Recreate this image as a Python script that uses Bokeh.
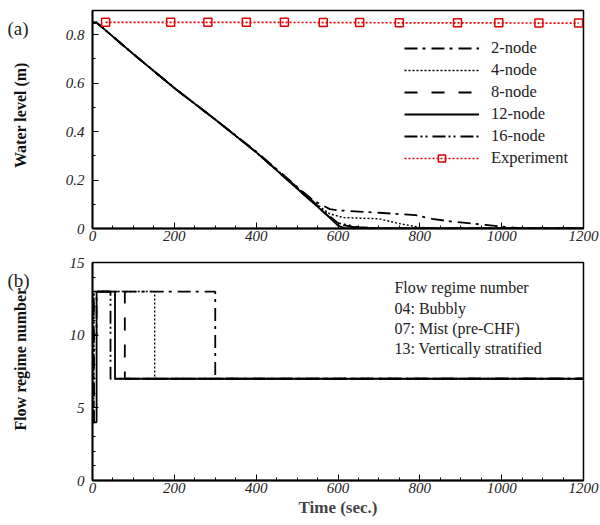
import math
from bokeh.plotting import figure
from bokeh.models import FixedTicker, Legend, LegendItem, Label
from bokeh.layouts import column, row
from bokeh.embed import file_html
from bokeh.resources import INLINE

# ---------------- data: panel (a) water level ----------------
t_12 = [0, 10, 100, 200, 300, 400, 500, 540, 570, 600, 620, 1200]
y_12 = [0.85, 0.85, 0.72, 0.58, 0.45, 0.315, 0.165, 0.105, 0.06, 0.012, 0.0, 0.0]

t_8 = [0, 10, 100, 200, 300, 400, 500, 540, 570, 600, 640, 700, 1200]
y_8 = [0.85, 0.85, 0.72, 0.58, 0.45, 0.315, 0.165, 0.105, 0.06, 0.018, 0.006, 0.0, 0.0]

t_16 = [0, 10, 100, 200, 300, 400, 500, 540, 570, 600, 650, 700, 1200]
y_16 = [0.85, 0.85, 0.72, 0.58, 0.45, 0.315, 0.17, 0.11, 0.065, 0.022, 0.006, 0.0, 0.0]

t_4 = [0, 10, 100, 200, 300, 400, 500, 540, 580, 615, 700, 750, 800, 830, 1200]
y_4 = [0.85, 0.85, 0.72, 0.58, 0.45, 0.315, 0.168, 0.11, 0.06, 0.045, 0.04, 0.02, 0.005, 0.0, 0.0]

t_2 = [0, 10, 100, 200, 300, 400, 500, 540, 580, 600, 700, 790, 830, 880, 960, 1000, 1050, 1200]
y_2 = [0.85, 0.85, 0.72, 0.58, 0.45, 0.318, 0.172, 0.115, 0.08, 0.075, 0.065, 0.055, 0.04, 0.028, 0.015, 0.008, 0.0, 0.0]

t_exp = [32, 191, 282, 376, 469, 564, 653, 750, 892, 993, 1091, 1188]
y_exp = [0.851, 0.851, 0.851, 0.851, 0.851, 0.85, 0.85, 0.849, 0.849, 0.849, 0.848, 0.848]

# ---------------- data: panel (b) flow regime ----------------
tb_12 = [0, 10, 10, 55, 55, 1200]
vb_12 = [4, 4, 13, 13, 7, 7]
tb_16 = [0, 3, 3, 44, 44, 1200]
vb_16 = [4, 4, 13, 13, 7, 7]
tb_8 = [0, 3, 3, 79, 79, 1200]
vb_8 = [4, 4, 13, 13, 7, 7]
tb_4 = [0, 3, 3, 152, 152, 1200]
vb_4 = [4, 4, 13, 13, 7, 7]
tb_2 = [0, 3, 3, 10, 10, 300, 300, 1200]
vb_2 = [4, 4, 10, 10, 13, 13, 7, 7]

x_ticks = [0, 200, 400, 600, 800, 1000, 1200]
ya_ticks = [0, 0.2, 0.4, 0.6, 0.8]
yb_ticks = [0, 5, 10, 15]
regime_text = ["Flow regime number", "04: Bubbly", "07: Mist (pre-CHF)", "13: Vertically stratified"]
panel_tags = ["(a)", "(b)"]
y_titles = ["Water level (m)", "Flow regime number"]

SERIF = "Liberation Serif"
STY = {
    "2": dict(line_dash="13 5 3 6"),
    "4": dict(line_dash="2 2"),
    "8": dict(line_dash="13 14"),
    "12": dict(line_dash="solid"),
    "16": dict(line_dash="13 3 2 3 2 5"),
}


def style(p, yticks, yminor):
    p.x_range.start, p.x_range.end = 0, 1200
    p.grid.visible = False
    p.outline_line_color = "black"
    p.outline_line_width = 1.5
    p.background_fill_color = "white"
    p.xaxis.ticker = FixedTicker(ticks=x_ticks, minor_ticks=list(range(0, 1201, 50)))
    p.yaxis.ticker = FixedTicker(ticks=yticks, minor_ticks=yminor)
    for ax in (p.xaxis[0], p.yaxis[0]):
        ax.axis_line_width = 1.8
        ax.major_tick_in = 6
        ax.major_tick_out = 0
        ax.minor_tick_in = 3
        ax.minor_tick_out = 0
        ax.major_label_text_font = SERIF
        ax.major_label_text_font_style = "italic"
        ax.major_label_text_font_size = "15px"
        ax.major_label_text_color = "#222222"
        ax.axis_label_text_font = SERIF
        ax.axis_label_text_font_style = "bold"
        ax.axis_label_text_font_size = "17px"
    p.xaxis.major_label_standoff = 2
    p.yaxis.major_label_standoff = 8


def side_figure(h, tag, tag_top, title, title_center):
    # narrow strip to the left of a panel holding the panel tag and the y title
    f = figure(width=40, height=h, output_backend="svg", toolbar_location=None,
               x_axis_type=None, y_axis_type=None, x_range=(0, 40), y_range=(0, h),
               min_border_left=0, min_border_right=0, min_border_top=0, min_border_bottom=0)
    f.outline_line_color = None
    f.grid.visible = False
    f.add_layout(Label(x=7, y=h - tag_top, text=tag, text_font=SERIF, text_font_size="19px",
                       text_baseline="top", text_color="#222222"))
    f.add_layout(Label(x=20, y=h - title_center, text=title, angle=math.pi / 2,
                       text_font=SERIF, text_font_size="16px", text_font_style="bold",
                       text_align="center", text_baseline="middle", text_color="#111111"))
    return f


# ---------------- panel (a) ----------------
pa = figure(width=560, height=250, output_backend="svg", toolbar_location=None,
            min_border_left=52, min_border_right=17, min_border_top=10, min_border_bottom=22)
pa.y_range.start, pa.y_range.end = 0, 0.9
style(pa, ya_ticks, [0.1, 0.3, 0.5, 0.7])
pa.yaxis.major_label_overrides = {0: "0"}

r2 = pa.line(t_2, y_2, line_color="black", line_width=1.8, **STY["2"])
r4 = pa.line(t_4, y_4, line_color="black", line_width=1.4, **STY["4"])
r8 = pa.line(t_8, y_8, line_color="black", line_width=1.8, **STY["8"])
r16 = pa.line(t_16, y_16, line_color="black", line_width=1.8, **STY["16"])
r12 = pa.line(t_12, y_12, line_color="black", line_width=1.8, **STY["12"])
re_l = pa.line(t_exp, y_exp, line_color="#e00000", line_width=1.6, line_dash="2 2")
re_m = pa.scatter(t_exp, y_exp, marker="square", size=8, line_color="#e00000",
                  line_width=1.5, fill_alpha=0)

legend = Legend(items=[
    LegendItem(label="2-node", renderers=[r2]),
    LegendItem(label="4-node", renderers=[r4]),
    LegendItem(label="8-node", renderers=[r8]),
    LegendItem(label="12-node", renderers=[r12]),
    LegendItem(label="16-node", renderers=[r16]),
    LegendItem(label="Experiment", renderers=[re_l, re_m]),
], location=(312, 60), padding=0, margin=0, spacing=2, glyph_width=75, glyph_height=18,
    label_height=18, label_standoff=12, border_line_color=None, background_fill_alpha=0,
    label_text_font=SERIF, label_text_font_size="16.5px", label_text_color="#222222")
pa.add_layout(legend, "center")

# ---------------- panel (b) ----------------
pb = figure(width=560, height=275, output_backend="svg", toolbar_location=None,
            min_border_left=52, min_border_right=17, min_border_top=12, min_border_bottom=45)
pb.y_range.start, pb.y_range.end = 0, 15
style(pb, yb_ticks, [i for i in range(0, 16) if i % 5])
pb.xaxis.axis_label = "Time (sec.)"
pb.xaxis.axis_label_standoff = 2

pb.line(tb_2, vb_2, line_color="black", line_width=1.8, **STY["2"])
pb.line(tb_4, vb_4, line_color="black", line_width=1.4, **STY["4"])
pb.line(tb_8, vb_8, line_color="black", line_width=1.8, **STY["8"])
pb.line(tb_16, vb_16, line_color="black", line_width=1.8, **STY["16"])
pb.line(tb_12, vb_12, line_color="black", line_width=1.8, **STY["12"])

for i, s in enumerate(regime_text):
    pb.add_layout(Label(x=738, y=13.25 - 1.39 * i, text=s, text_font=SERIF, text_font_size="16px",
                        text_baseline="middle", text_color="#222222"))

sa = side_figure(250, panel_tags[0], 9, y_titles[0], 120)
sb = side_figure(275, panel_tags[1], 10, y_titles[1], 122)

layout = column(row(sa, pa, spacing=0), row(sb, pb, spacing=0), spacing=0)
open("out.html", "w").write(file_html(layout, INLINE))
